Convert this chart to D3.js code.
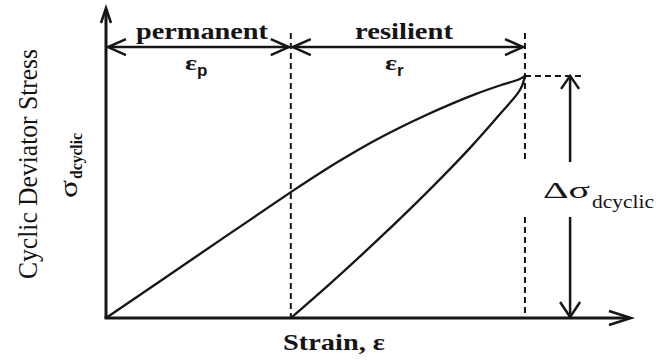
<!DOCTYPE html>
<html>
<head>
<meta charset="utf-8">
<script src="https://cdn.jsdelivr.net/npm/d3@7/dist/d3.min.js"></script>
<style>
  html, body { margin: 0; padding: 0; background: #fff; }
  svg { display: block; }
  text { font-family: "Liberation Serif", "Times New Roman", serif; fill: #141414; }
</style>
</head>
<body>
<svg id="chart" width="656" height="360"></svg>
<script>
// Cyclic loading / unloading of a specimen: stress against strain.
// Strain and stress are in arbitrary plot units.
const loadingStrain   = [0, 1.76, 3.52, 4.19, 4.67, 5.14, 5.62, 6.10, 6.57, 7.05, 7.50, 7.87, 7.98];
const loadingStress   = [0, 2.03, 4.06, 4.80, 5.29, 5.74, 6.16, 6.55, 6.90, 7.23, 7.50, 7.70, 7.81];
const unloadingStrain = [3.52, 4.27, 5.22, 6.17, 6.93, 7.50, 7.89, 7.98];
const unloadingStress = [0, 1.11, 2.59, 4.15, 5.48, 6.57, 7.37, 7.81];

const permanentStrain = 3.52;   // εp, strain left after unloading
const peakStrain      = 7.98;   // strain at peak stress
const peakStress      = 7.81;   // Δσ dcyclic

const regionLabels  = ["permanent", "resilient"];
const regionSymbols = ["p", "r"];

const svg = d3.select("#chart");
const x = d3.scaleLinear().domain([0, 10]).range([106, 631]);
const y = d3.scaleLinear().domain([0, 10]).range([318, 8]);

const ink = "#161616";

// chevron arrowhead: tip at (tx, ty), pointing in direction (dx, dy)
function chevron(tx, ty, dx, dy, len, half, width) {
  const px = -dy, py = dx;
  const bx = tx - dx * len, by = ty - dy * len;
  svg.append("path")
    .attr("d", `M${bx + px * half},${by + py * half}L${tx},${ty}L${bx - px * half},${by - py * half}`)
    .attr("fill", "none").attr("stroke", ink)
    .attr("stroke-width", width).attr("stroke-linejoin", "miter");
}

// axes
svg.append("line").attr("x1", x(0)).attr("y1", y(0)).attr("x2", x(0)).attr("y2", y(10) + 1)
  .attr("stroke", ink).attr("stroke-width", 3);
chevron(x(0), y(10), 0, -1, 15, 5, 2.5);
svg.append("line").attr("x1", x(0) - 1.5).attr("y1", y(0)).attr("x2", x(10) - 1).attr("y2", y(0))
  .attr("stroke", ink).attr("stroke-width", 3);
chevron(x(10), y(0), 1, 0, 22, 7, 2.5);

// dashed guides
const dash = "6,4";
const topGuide = 9.19;
svg.append("line").attr("x1", x(permanentStrain)).attr("x2", x(permanentStrain))
  .attr("y1", y(topGuide)).attr("y2", y(0))
  .attr("stroke", ink).attr("stroke-width", 2).attr("stroke-dasharray", dash);
[[topGuide, 5.10], [3.26, 0]].forEach(([a, b]) => {
  svg.append("line").attr("x1", x(peakStrain)).attr("x2", x(peakStrain))
    .attr("y1", y(a)).attr("y2", y(b))
    .attr("stroke", ink).attr("stroke-width", 2).attr("stroke-dasharray", dash);
});
svg.append("line").attr("x1", x(peakStrain)).attr("x2", x(9.07))
  .attr("y1", y(peakStress)).attr("y2", y(peakStress))
  .attr("stroke", ink).attr("stroke-width", 2).attr("stroke-dasharray", dash);

// loading and unloading curves
const line = d3.line().x(d => x(d[0])).y(d => y(d[1])).curve(d3.curveCatmullRom.alpha(0.5));
svg.append("path").attr("d", line(d3.zip(loadingStrain, loadingStress)))
  .attr("fill", "none").attr("stroke", ink).attr("stroke-width", 2.3);
svg.append("path").attr("d", line(d3.zip(unloadingStrain, unloadingStress)))
  .attr("fill", "none").attr("stroke", ink).attr("stroke-width", 2.3);

// permanent / resilient double arrows
const arrowRow = 8.74;
const spans = [[0, permanentStrain], [permanentStrain, peakStrain]];
spans.forEach(([a, b], i) => {
  const x1 = x(a) + 2, x2 = x(b) - 2, yy = y(arrowRow);
  svg.append("line").attr("x1", x1).attr("x2", x2).attr("y1", yy).attr("y2", yy)
    .attr("stroke", ink).attr("stroke-width", 2.5);
  chevron(x1, yy, -1, 0, 18, 8, 2.5);
  chevron(x2, yy, 1, 0, 18, 8, 2.5);
  const cx = i === 0 ? 202 : 404;
  svg.append("text").attr("x", cx).attr("y", 39).attr("text-anchor", "middle")
    .attr("font-size", 24).attr("font-weight", "bold")
    .attr("textLength", i === 0 ? 132 : 98).attr("lengthAdjust", "spacingAndGlyphs")
    .text(regionLabels[i]);
  const x0 = i === 0 ? 185 : 385;
  const t = svg.append("text").attr("x", x0).attr("y", 70)
    .attr("font-size", 20).attr("font-weight", "bold");
  t.append("tspan").attr("textLength", 12).attr("lengthAdjust", "spacingAndGlyphs").text("ε");
  t.append("tspan").attr("x", x0 + 12).attr("dy", 6).attr("font-size", 17)
    .attr("font-family", "Liberation Sans, Arial, sans-serif").text(regionSymbols[i]);
});

// Δσ dcyclic arrows
const ax = x(8.84);
svg.append("line").attr("x1", ax).attr("x2", ax).attr("y1", y(5.03)).attr("y2", y(peakStress) + 1)
  .attr("stroke", ink).attr("stroke-width", 2.5);
chevron(ax, y(peakStress), 0, -1, 13, 9, 2.5);
svg.append("line").attr("x1", ax).attr("x2", ax).attr("y1", y(3.26)).attr("y2", y(0) - 1)
  .attr("stroke", ink).attr("stroke-width", 2.5);
chevron(ax, y(0) - 1, 0, 1, 15, 10, 2.5);

const dLabel = svg.append("text").attr("x", 543).attr("y", 198);
dLabel.append("tspan").attr("font-size", 23)
  .attr("textLength", 47).attr("lengthAdjust", "spacingAndGlyphs").text("Δσ");
dLabel.append("tspan").attr("x", 592).attr("y", 208).attr("font-size", 19)
  .attr("textLength", 62).attr("lengthAdjust", "spacingAndGlyphs").text("dcyclic");

// axis titles
svg.append("text").attr("x", 334).attr("y", 350).attr("text-anchor", "middle")
  .attr("font-size", 23).attr("font-weight", "bold")
  .attr("textLength", 102).attr("lengthAdjust", "spacingAndGlyphs")
  .text("Strain, ε");

svg.append("text").attr("transform", "translate(37,164) rotate(-90)")
  .attr("text-anchor", "middle").attr("font-size", 28)
  .attr("textLength", 230).attr("lengthAdjust", "spacingAndGlyphs")
  .text("Cyclic Deviator Stress");

const sLabel = svg.append("text").attr("transform", "translate(77,198) rotate(-90)");
sLabel.append("tspan").attr("font-size", 26).attr("textLength", 18)
  .attr("lengthAdjust", "spacingAndGlyphs").text("σ");
sLabel.append("tspan").attr("x", 19).attr("dy", 5).attr("font-size", 17).attr("font-weight", "bold")
  .attr("textLength", 46).attr("lengthAdjust", "spacingAndGlyphs").text("dcyclic");
</script>
</body>
</html>
